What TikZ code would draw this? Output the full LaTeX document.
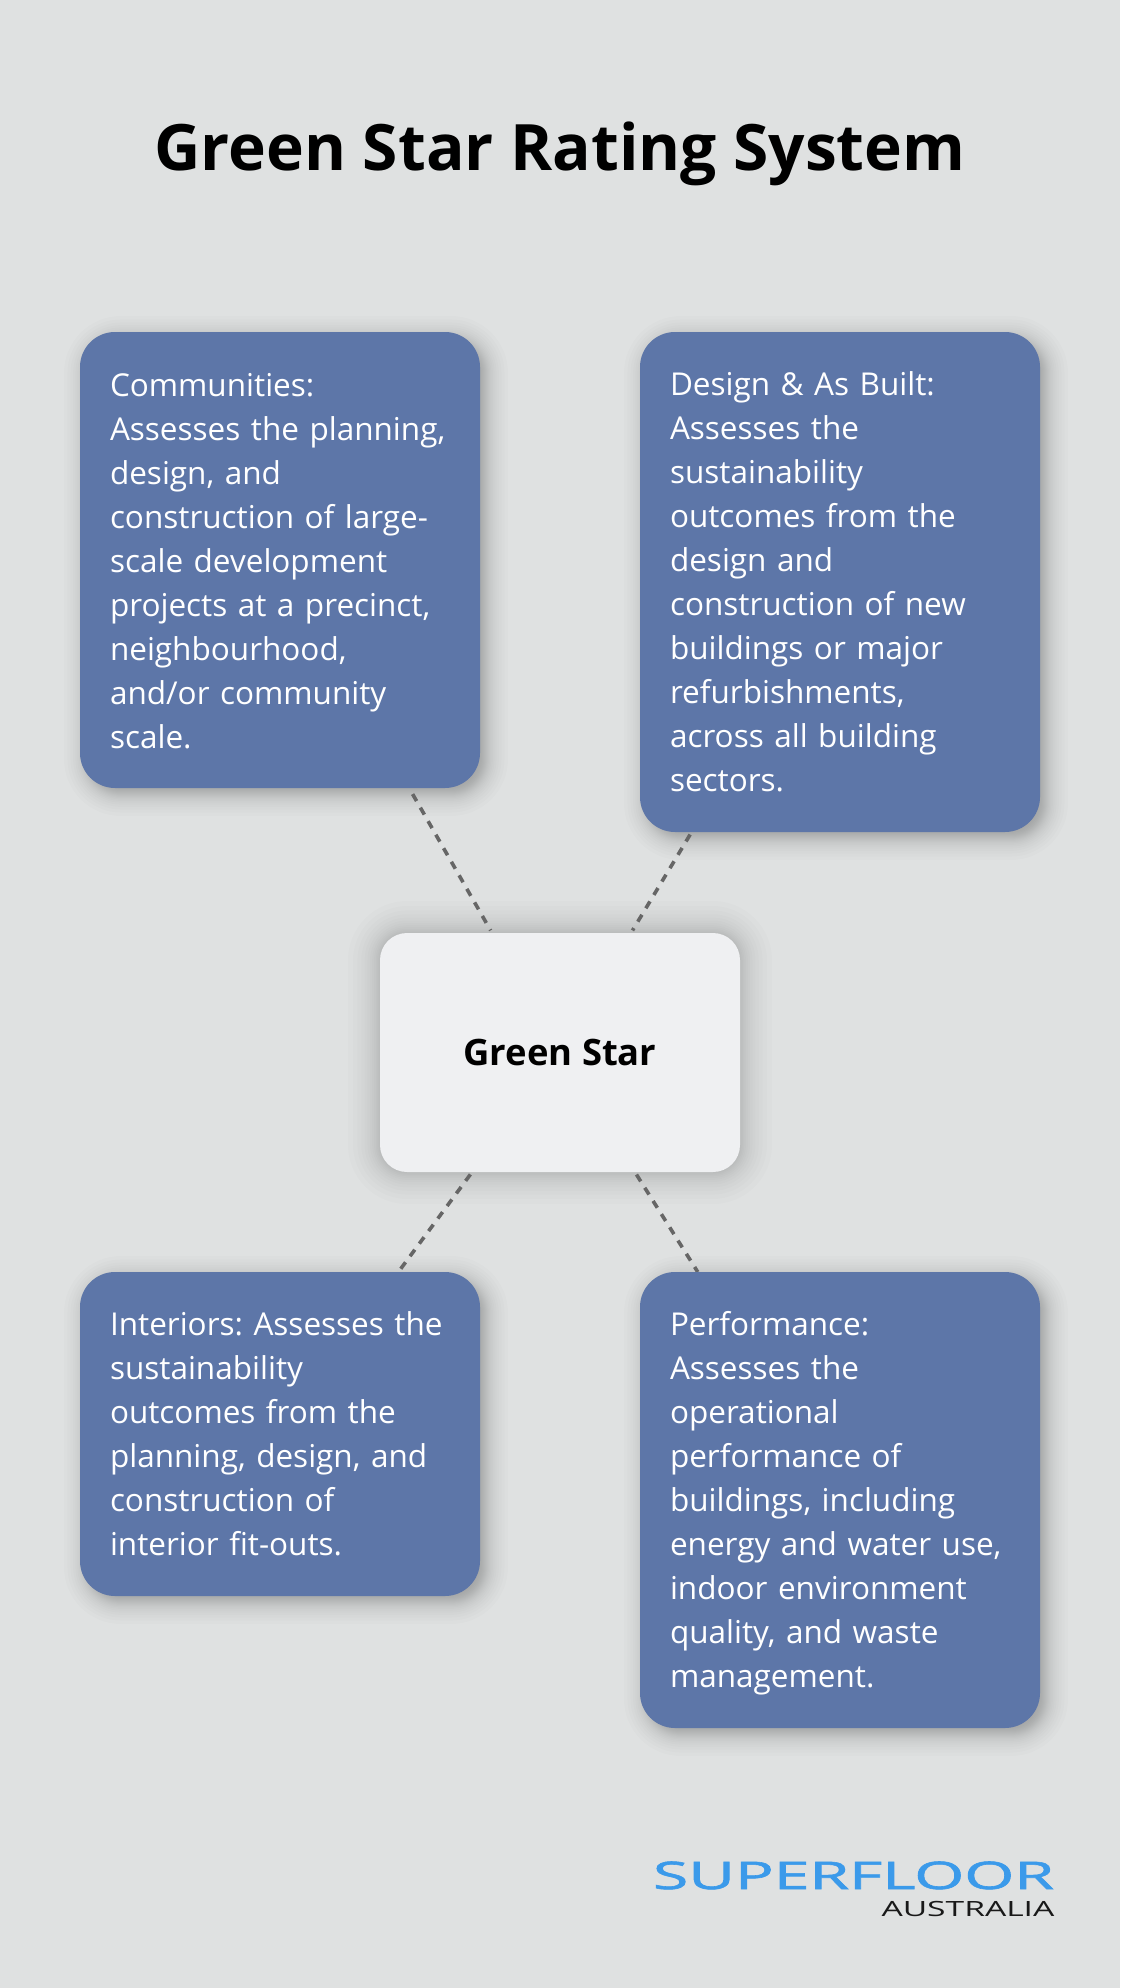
\documentclass[tikz,border=0pt]{standalone}
\usepackage{fontspec}
\setmainfont{Open Sans}
\newfontfamily\logofont[FakeBold=1.5]{Open Sans}
\usetikzlibrary{calc,backgrounds}
\definecolor{pagegrey}{HTML}{DFE1E1}
\definecolor{boxblue}{HTML}{5D76A8}
\definecolor{hubgrey}{HTML}{EFF0F2}
\definecolor{dashgrey}{HTML}{666666}
\definecolor{logoblue}{HTML}{3B9AEA}
\tikzset{
    infobox/.style={shape=rectangle,rounded corners=35pt,fill=boxblue,text=white,
    minimum width=400pt,inner sep=0pt,outer sep=0pt,text width=340pt,align=left,
    font=\fontsize{31.5}{44}\selectfont\frenchspacing},
    hubbox/.style={shape=rectangle,rounded corners=27pt,fill=hubgrey,text=black,
    minimum width=360pt,minimum height=239pt,inner sep=0pt,outer sep=0pt,
    font=\fontsize{36.4}{44}\selectfont\bfseries},
    linkline/.style={draw=dashgrey,line width=3.6pt,dash pattern=on 8pt off 7.6pt}
}
\newcommand{\softshadow}[5]{%
    \foreach \k in {1,...,24}{
    \pgfmathsetmacro{\part}{\k/12-1}
    \pgfmathsetmacro{\grow}{#4*(0.5*\part+0.5*\part*\part*\part)}
    \pgfmathsetmacro{\rad}{max(#2+\grow,1)}
    \fill[black,opacity=#5,rounded corners=\rad pt]
    ($(#1.north west)+(#3-\grow,#3-\grow)$) rectangle ($(#1.south east)+(#3+\grow,#3+\grow)$);
    }}
\begin{document}
\begin{tikzpicture}[x=1pt,y=-1pt]
    \useasboundingbox (0,0) rectangle (1120,1988);
    \node (title) at (560,154) {\fontsize{64}{70}\selectfont\bfseries Green Star Rating System};

    \node[infobox,minimum height=456pt,text height=25pt] (communities) at (280,560) {Communities:\\Assesses the planning,\\design, and\\construction of large-\\scale development\\projects at a precinct,\\neighbourhood,\\and/or community\\scale.};
    \node[infobox,minimum height=500pt] (designbuilt) at (840,582) {Design \& As Built:\\Assesses the\\sustainability\\outcomes from the\\design and\\construction of new\\buildings or major\\refurbishments,\\across all building\\sectors.};
    \node[infobox,minimum height=324pt] (interiors) at (280,1434) {Interiors: Assesses the\\sustainability\\outcomes from the\\planning, design, and\\construction of\\interior fit-outs.};
    \node[infobox,minimum height=456pt,text height=30pt] (performance) at (840,1500) {Performance:\\Assesses the\\operational\\performance of\\buildings, including\\energy and water use,\\indoor environment\\quality, and waste\\management.};
    \node[hubbox] (greenstar) at (560,1052.5) {\raisebox{-1pt}{Green Star}};

    \node[text=logoblue,font=\fontsize{38}{38}\logofont,xscale=1.69,anchor=base east] (superfloor) at (1060,1889) {SUPERFLOOR};
    \node[text=black!90,font=\fontsize{21}{21}\selectfont,xscale=1.6,anchor=base east] (australia) at (1060,1916) {AUSTRALIA};

    \begin{scope}[on background layer]
    \fill[pagegrey] (0,0) rectangle (1120,1988);
    \softshadow{communities}{35}{6}{22}{0.0125}
    \softshadow{designbuilt}{35}{6}{22}{0.0125}
    \softshadow{interiors}{35}{6}{22}{0.0125}
    \softshadow{performance}{35}{6}{22}{0.0125}
    \softshadow{greenstar}{27}{0}{32}{0.011}
    \draw[linkline,shorten >=3pt,shorten <=7pt] (communities) -- (greenstar);
    \draw[linkline,shorten >=3pt,shorten <=3pt] (designbuilt) -- (greenstar);
    \draw[linkline,shorten >=0pt,shorten <=3pt] (greenstar) -- (interiors);
    \draw[linkline,shorten >=0pt,shorten <=3pt] (greenstar) -- (performance);
    \end{scope}
\end{tikzpicture}
\end{document}
